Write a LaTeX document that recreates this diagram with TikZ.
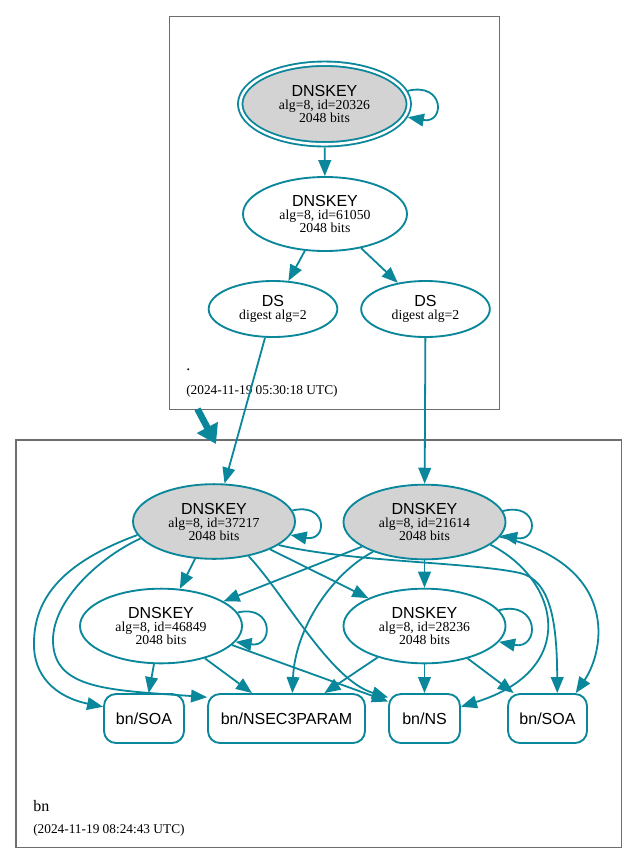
\documentclass[tikz,border=0pt]{standalone}
\usepackage{fontspec}
\setmainfont{Liberation Serif}
\setsansfont{Liberation Sans}
\usetikzlibrary{shapes.geometric,arrows.meta}
\definecolor{edgec}{HTML}{0A879A}
\definecolor{keyfill}{HTML}{D3D3D3}
\definecolor{clus}{HTML}{6E6E6E}
\begin{document}
\begin{tikzpicture}[x=0.75pt,y=-0.75pt,
  keyE/.style={ellipse, draw=edgec, line width=1.4pt, inner sep=0pt, align=center,
    font=\fontsize{10.3}{9.75}\selectfont, minimum width=121.5pt, minimum height=56pt},
  dsE/.style={keyE, minimum width=96.5pt, minimum height=42pt},
  rrBox/.style={rectangle, rounded corners=9pt, draw=edgec, line width=1.4pt, inner sep=0pt,
    font=\sffamily\fontsize{12}{12}\selectfont, minimum height=36.75pt},
  edge/.style={draw=edgec, line width=1.35pt, -{Triangle[length=12pt,width=9.5pt]}},
  clusbox/.style={draw=clus, line width=0.8pt},
  clabel/.style={anchor=base west, inner sep=0pt, font=\fontsize{12}{12}\selectfont},
  cdate/.style={anchor=base west, inner sep=0pt, font=\fontsize{10}{10}\selectfont}
]
\newcommand{\kt}{{\sffamily\fontsize{12}{9.75}\selectfont DNSKEY}}
\useasboundingbox[fill=white] (0,0) rectangle (637,865);
% clusters
\draw[clusbox] (169.5,16.5) rectangle (499.5,409.5);
\draw[clusbox] (16,440) rectangle (621.5,847.5);
\node[clabel] (lroot) at (186,370) {.};
\node[cdate] (droot) at (186,394) {(2024-11-19 05:30:18 UTC)};
\node[clabel] (lbn) at (33,811) {bn};
\node[cdate] (dbn) at (33,833) {(2024-11-19 08:24:43 UTC)};
% top nodes
\node[keyE, fill=keyfill, double=white, double distance=1.9pt, outer sep=2.45pt,
  minimum width=126.4pt, minimum height=60.4pt] (k1) at (324.5,104) {\kt\\alg=8, id=20326\\2048 bits};
\node[keyE, minimum width=123pt, minimum height=55.5pt] (k2) at (325,214) {\kt\\alg=8, id=61050\\2048 bits};
\node[dsE] (ds1) at (273,309) {{\sffamily\fontsize{12}{9.75}\selectfont DS}\\digest alg=2};
\node[dsE] (ds2) at (425.5,309) {{\sffamily\fontsize{12}{9.75}\selectfont DS}\\digest alg=2};
% bottom nodes
\node[keyE, fill=keyfill] (k3) at (214,521.5) {\kt\\alg=8, id=37217\\2048 bits};
\node[keyE, fill=keyfill] (k4) at (424.5,522) {\kt\\alg=8, id=21614\\2048 bits};
\node[keyE] (k5) at (161,626) {\kt\\alg=8, id=46849\\2048 bits};
\node[keyE] (k6) at (424.5,626) {\kt\\alg=8, id=28236\\2048 bits};
\node[rrBox, minimum width=60pt] (soaL) at (144,718.5) {bn/SOA};
\node[rrBox, minimum width=117.75pt] (nsec) at (286.5,718.5) {bn/NSEC3PARAM};
\node[rrBox, minimum width=53.25pt] (ns) at (424.5,718.5) {bn/NS};
\node[rrBox, minimum width=59.25pt] (soaR) at (547.5,718.5) {bn/SOA};
% delegation
\coordinate (dA) at (197.5,409);
\coordinate (dB) at (216,444);
\draw[draw=edgec, line width=5pt, -{Triangle[length=14pt,width=17pt]}] (dA) -- (dB);
% top edges
\draw[edge] (k1.9) .. controls (445,82) and (445,124) .. (k1.-9);
\draw[edge] (k1) -- (k2);
\draw[edge] (k2) -- (ds1);
\draw[edge] (k2) -- (ds2);
\draw[edge] (ds1) -- (k3);
\draw[edge] (ds2) -- (k4);
% self loops
\draw[edge] (k3.8) .. controls (328,502) and (328,542) .. (k3.-10);
\draw[edge] (k4.8.7) .. controls (539,502) and (539,542) .. (k4.-10);
\draw[edge] (k5.10.4) .. controls (274,604) and (274,648) .. (k5.-12);
\draw[edge] (k6.12) .. controls (540,600) and (540,650) .. (k6.-12);
% straight edges
\draw[edge] (k3) -- (k5);
\draw[edge] (k3) -- (k6);
\draw[edge] (k4) -- (k5);
\draw[edge] (k4) -- (k6);
\draw[edge] (k5) -- (soaL);
\draw[edge] (k5) -- (nsec);
\draw[edge] (k5.-15) -- (ns.155);
\draw[edge] (k6) -- (nsec);
\draw[edge] (k6) -- (ns);
\draw[edge] (k6) -- (soaR);
% curved edges
\draw[edge] (k3.190) .. controls (75,558) and (34,590) .. (34,643) .. controls (33,675) and (55,697) .. (soaL.164);
\draw[edge] (k3.193) .. controls (100,557) and (53,600) .. (53,640) .. controls (53,690) and (110,690) .. (nsec.165);
\draw[edge] (k3.-45) .. controls (285,595) and (330,680) .. (ns.150);
\draw[edge] (k3.-20) .. controls (350,562) and (470,562) .. (520,573) .. controls (550,580) and (557,620) .. (soaR.69);
\draw[edge] (k4.210) .. controls (330,575) and (295,630) .. (nsec.77);
\draw[edge] (k4.-19) .. controls (560,580) and (580,670) .. (ns.18);
\draw[edge] (k4.-11) .. controls (620,565) and (605,650) .. (soaR.42);
\end{tikzpicture}
\end{document}
